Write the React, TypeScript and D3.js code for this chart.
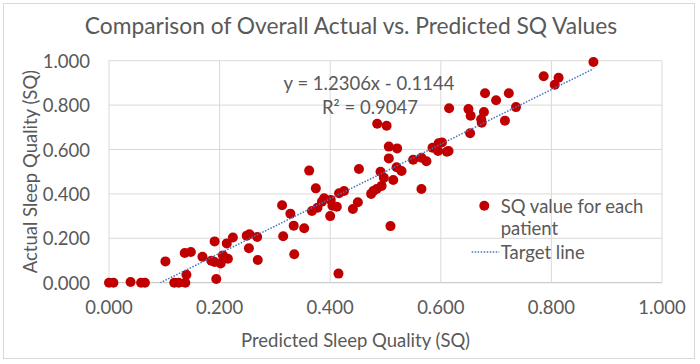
import React from 'react'
import * as d3 from 'd3'

// predicted SQ (x) and actual SQ (y), one pair per patient
const predicted = [
  0.0, 0.008, 0.039, 0.058, 0.065, 0.102, 0.118, 0.126, 0.138, 0.14,
  0.137, 0.148, 0.169, 0.191, 0.185, 0.191, 0.202, 0.194, 0.206, 0.215,
  0.213, 0.224, 0.249, 0.254, 0.253, 0.268, 0.269, 0.313, 0.315, 0.328,
  0.334, 0.335, 0.353, 0.362, 0.367, 0.374, 0.377, 0.385, 0.389, 0.4,
  0.404, 0.412, 0.401, 0.416, 0.425, 0.415, 0.441, 0.45, 0.452, 0.474,
  0.478, 0.484, 0.493, 0.491, 0.497, 0.485, 0.502, 0.506, 0.521, 0.506,
  0.514, 0.52, 0.529, 0.509, 0.55, 0.565, 0.574, 0.565, 0.585, 0.596,
  0.602, 0.595, 0.611, 0.614, 0.615, 0.65, 0.654, 0.653, 0.68, 0.678,
  0.673, 0.674, 0.7, 0.716, 0.723, 0.736, 0.786, 0.813, 0.806, 0.876
]
const actual = [
  0.0, 0.0, 0.003, 0.0, 0.0, 0.096, 0.0, 0.0, 0.0, 0.036,
  0.134, 0.138, 0.117, 0.186, 0.099, 0.093, 0.087, 0.017, 0.123, 0.108,
  0.177, 0.204, 0.212, 0.218, 0.155, 0.206, 0.102, 0.349, 0.209, 0.311,
  0.257, 0.128, 0.245, 0.505, 0.323, 0.425, 0.338, 0.365, 0.38, 0.3,
  0.347, 0.342, 0.373, 0.403, 0.413, 0.041, 0.332, 0.362, 0.512, 0.4,
  0.413, 0.422, 0.436, 0.5, 0.473, 0.716, 0.707, 0.613, 0.605, 0.56,
  0.463, 0.52, 0.503, 0.255, 0.554, 0.563, 0.547, 0.422, 0.608, 0.628,
  0.632, 0.593, 0.59, 0.593, 0.786, 0.782, 0.752, 0.673, 0.853, 0.769,
  0.736, 0.721, 0.822, 0.73, 0.853, 0.791, 0.93, 0.923, 0.892, 0.994
]

const slope = 1.2306
const intercept = -0.1144
const rSquared = 0.9047
const axisTicks = [0, 0.2, 0.4, 0.6, 0.8, 1.0]

const W = 700
const H = 364
const FONT = 'Lato, "Open Sans", sans-serif'
const TEXT = '#595959'
const GRID = '#D9D9D9'
const FS = 18.5

export default function App() {
  const x = d3.scaleLinear().domain([0, 1]).range([109, 662])
  const y = d3.scaleLinear().domain([0, 1]).range([282.7, 60.7])
  const fmt = d3.format('.3f')

  const points = predicted.map((p, i) => ({p, a: actual[i]}))
  const xMax = d3.max(predicted) as number
  const trend = d3.range(0, 101).map(i => {
    const px = (xMax * i) / 100
    return [px, slope * px + intercept] as [number, number]
  })
  const line = d3
    .line<[number, number]>()
    .x(d => x(d[0]))
    .y(d => y(d[1]))

  return (
    <svg
      width={W}
      height={H}
      style={{position: 'absolute', left: 0, top: 0, background: '#fff'}}
      fontFamily={FONT}
    >
      <defs>
        <clipPath id="plot">
          <rect x={x(0)} y={y(1)} width={x(1) - x(0)} height={y(0) - y(1)} />
        </clipPath>
      </defs>
      <rect x={3.5} y={3.5} width={691} height={355} fill="#fff" stroke={GRID} />

      <text x={351} y={25} fontSize={22.8} fill={TEXT} textAnchor="middle" dominantBaseline="central">
        Comparison of Overall Actual vs. Predicted SQ Values
      </text>

      {axisTicks.map(t => (
        <g key={'g' + t}>
          <line x1={x(0)} x2={x(1)} y1={y(t)} y2={y(t)} stroke={t === 0 ? '#BFBFBF' : GRID} />
          <line x1={x(t)} x2={x(t)} y1={y(0)} y2={y(1)} stroke={GRID} />
          <text x={90} y={y(t)} fontSize={FS} fill={TEXT} textAnchor="end" dominantBaseline="central">
            {fmt(t)}
          </text>
          <text x={x(t)} y={307} fontSize={FS} fill={TEXT} textAnchor="middle" dominantBaseline="central">
            {fmt(t)}
          </text>
        </g>
      ))}

      <text
        transform={`translate(30,${y(0.5)}) rotate(-90)`}
        fontSize={FS}
        fill={TEXT}
        textAnchor="middle"
        dominantBaseline="central"
      >
        Actual Sleep Quality (SQ)
      </text>
      <text x={x(0.5) - 30} y={340} fontSize={FS} fill={TEXT} textAnchor="middle" dominantBaseline="central">
        Predicted Sleep Quality (SQ)
      </text>

      {points.map((d, i) => (
        <circle key={i} cx={x(d.p)} cy={y(d.a)} r={5} fill="#C00000" />
      ))}

      <path
        d={line(trend) as string}
        fill="none"
        stroke="#4472C4"
        strokeWidth={1.5}
        strokeDasharray="1.5 1.5"
        clipPath="url(#plot)"
      />

      <text x={369} y={83} fontSize={FS} fill={TEXT} textAnchor="middle" dominantBaseline="central">
        {`y = ${slope}x - ${Math.abs(intercept)}`}
      </text>
      <text x={370} y={107} fontSize={FS} fill={TEXT} textAnchor="middle" dominantBaseline="central">
        {`R² = ${rSquared}`}
      </text>

      <circle cx={484.3} cy={205.7} r={5} fill="#C00000" />
      <text x={500.7} y={205.7} fontSize={FS} fill={TEXT} dominantBaseline="central">
        SQ value for each
      </text>
      <text x={500.7} y={228} fontSize={FS} fill={TEXT} dominantBaseline="central">
        patient
      </text>
      <line x1={471.7} x2={499.3} y1={252} y2={252} stroke="#4472C4" strokeWidth={1.5} strokeDasharray="1.5 1.5" />
      <text x={500.7} y={252} fontSize={FS} fill={TEXT} dominantBaseline="central">
        Target line
      </text>
    </svg>
  )
}
